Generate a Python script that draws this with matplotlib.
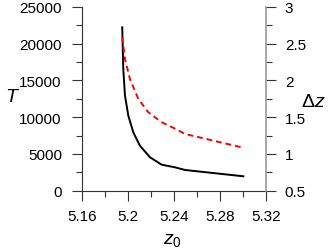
import matplotlib
matplotlib.use('Agg')
import matplotlib.pyplot as plt
from matplotlib.ticker import MultipleLocator, FuncFormatter

plt.rcParams['font.family'] = ['Liberation Sans', 'DejaVu Sans']
plt.rcParams['mathtext.fontset'] = 'custom'
plt.rcParams['mathtext.rm'] = 'Liberation Sans'
plt.rcParams['mathtext.it'] = 'Liberation Sans:italic'

# T vs z0 (black, left axis)
z0_T = [5.1950, 5.1959, 5.1974, 5.2003, 5.2046, 5.2104, 5.2191, 5.2293, 5.2409, 5.2496, 5.3003]
T = [22240, 16560, 12930, 10200, 7950, 6120, 4550, 3540, 3180, 2820, 1960]

# delta z vs z0 (red dashed, right axis)
z0_dz = [5.1950, 5.1974, 5.2017, 5.2090, 5.2177, 5.2293, 5.2403, 5.2496, 5.2989]
dz = [2.59, 2.29, 2.02, 1.748, 1.567, 1.431, 1.349, 1.272, 1.09]


def fmt(v, pos):
    return ('%g' % round(v, 4))


fig = plt.figure(figsize=(3.33, 2.53), dpi=100)
ax = fig.add_axes([0.2462, 0.2423, 0.5526, 0.7261])
ax2 = ax.twinx()

ax.plot(z0_T, T, color='black', lw=1.4, zorder=3)
ax2.plot(z0_dz, dz, color='red', lw=1.4, linestyle=(0, (3, 2)), zorder=3)

ax.set_xlim(5.16, 5.32)
ax.set_ylim(0, 25000)
ax2.set_ylim(0.5, 3)

ax.xaxis.set_major_locator(MultipleLocator(0.04))
ax.xaxis.set_minor_locator(MultipleLocator(0.02))
ax.yaxis.set_major_locator(MultipleLocator(5000))
ax.yaxis.set_minor_locator(MultipleLocator(2500))
ax2.yaxis.set_major_locator(MultipleLocator(0.5))
ax2.yaxis.set_minor_locator(MultipleLocator(0.25))
for a in (ax.xaxis, ax.yaxis, ax2.yaxis):
    a.set_major_formatter(FuncFormatter(fmt))

for a in (ax, ax2):
    a.spines['top'].set_visible(False)
    a.tick_params(which='major', length=7.5, width=0.8, color='#333333',
                  labelsize=11, direction='out')
    a.tick_params(which='minor', length=4.3, width=0.8, color='#333333',
                  direction='out')
ax.tick_params(axis='y', pad=7)
ax.tick_params(axis='x', pad=6)
ax2.tick_params(axis='y', pad=6)

ax.spines['left'].set_color('#333333')
ax.spines['bottom'].set_color('#333333')
ax.spines['right'].set_visible(False)
ax2.spines['left'].set_visible(False)
ax2.spines['bottom'].set_visible(False)
ax2.spines['right'].set_color('#999999')
ax2.spines['right'].set_linewidth(1.2)

ax.set_ylabel('$T$', fontsize=14, rotation=0, va='center', ha='center')
ax.yaxis.set_label_coords(-0.38, 0.515)
ax2.set_ylabel(r'$\mathrm{\Delta}z$', fontsize=14, rotation=0, va='center', ha='center')
ax2.yaxis.set_label_coords(1.255, 0.483)
ax.set_xlabel('$z_0$', fontsize=14, va='center', ha='center')
ax.xaxis.set_label_coords(0.489, -0.263)

fig.savefig('out.png', dpi=100)
